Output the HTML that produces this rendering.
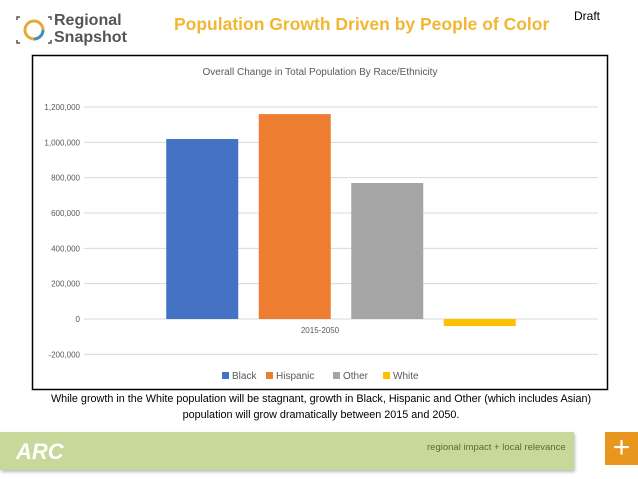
<!DOCTYPE html>
<html><head><meta charset="utf-8"><style>
body{margin:0;width:638px;height:479px;background:#fff;font-family:"Liberation Sans",sans-serif;position:relative;overflow:hidden}
.abs{position:absolute}
</style></head><body>
<div class="abs" style="left:14px;top:12px;width:120px;height:36px">
<svg width="40" height="36"><circle cx="20" cy="18" r="9" fill="none" stroke="#e8a93a" stroke-width="3"/><circle cx="20" cy="18" r="9" fill="none" stroke="#3a8fc7" stroke-width="3" stroke-dasharray="14 60"/><path d="M3 8v-3h3M37 8v-3h-3M3 28v3h3M37 28v3h-3" stroke="#555" fill="none" stroke-width="1.5"/></svg>
<div class="abs" style="left:40px;top:0;font-size:16px;line-height:17px;color:#555;font-weight:bold">Regional<br>Snapshot</div>
</div>
<div class="abs" style="left:174px;top:14px;font-size:17.5px;font-weight:bold;color:#f2b632;white-space:nowrap">Population Growth Driven by People of Color</div>
<div class="abs" style="left:574px;top:9px;font-size:12px;color:#000">Draft</div>
<svg class="abs" style="left:0;top:0" width="638" height="479">
<rect x="32.5" y="55.5" width="575" height="334" fill="#fff" stroke="#000" stroke-width="1.5"/>
<text x="320" y="75" text-anchor="middle" font-size="10" fill="#595959">Overall Change in Total Population By Race/Ethnicity</text>
<g id="grid"></g><g id="bars"></g>
<text x="320" y="333" text-anchor="middle" font-size="8" fill="#595959">2015-2050</text>
<g id="legend"></g>
</svg>
<div class="abs" style="left:30px;top:391px;width:582px;text-align:center;font-size:10.8px;line-height:16px;color:#000">While growth in the White population will be stagnant, growth in Black, Hispanic and Other (which includes Asian) population will grow dramatically between 2015 and 2050.</div>
<div class="abs" style="left:0;top:432px;width:574px;height:38px;background:#c8d89a;box-shadow:1px 2px 3px #bbb">
<div class="abs" style="left:16px;top:7px;font-size:22px;font-weight:bold;font-style:italic;color:#fff">ARC</div>
<div class="abs" style="left:427px;top:10px;font-size:9.5px;color:#5a6a3a">regional impact + local relevance</div>
</div>
<div class="abs" style="left:605px;top:432px;width:33px;height:33px;background:#e8961e;color:#fff;font-size:30px;line-height:31px;text-align:center">+</div>
<script>
const categories=["Black","Hispanic","Other","White"];
const values=[1019000,1160000,770000,-40000];
const colors=["#4472c4","#ed7d31","#a5a5a5","#ffc000"];
const ticks=[-200000,0,200000,400000,600000,800000,1000000,1200000];
const NS="http://www.w3.org/2000/svg";
const y0=319,pxPer=35.33/200000,left=84,right=598;
function y(v){return y0-v*pxPer;}
function mk(t,a,p){const e=document.createElementNS(NS,t);for(const k in a)e.setAttribute(k,a[k]);p.appendChild(e);return e;}
const g=document.getElementById('grid');
ticks.forEach(t=>{
const l=mk('line',{x1:left,x2:right,y1:y(t),y2:y(t),stroke:'#d9d9d9','stroke-width':1},g);


const tx=mk('text',{x:80,y:y(t)+3,'text-anchor':'end','font-size':8,fill:'#595959'},g);
tx.textContent=t.toLocaleString('en-US');


});
const b=document.getElementById('bars');
const bw=72,gap=20.5,n=categories.length,start=left+(right-left-(n*bw+(n-1)*gap))/2;
values.forEach((v,i)=>{
const r=mk('rect',{x:start+i*(bw+gap),y:Math.min(y(v),y0),width:bw,height:Math.abs(y(v)-y0),fill:colors[i]},b);


});
const lg=document.getElementById('legend');
const lx=[222,266,333,383];
categories.forEach((c,i)=>{
const s=mk('rect',{x:lx[i],y:372,width:7,height:7,fill:colors[i]},lg);


const t=mk('text',{x:lx[i]+10,y:379,'font-size':10,fill:'#595959'},lg);
t.textContent=c;


});
</script>
</body></html>
